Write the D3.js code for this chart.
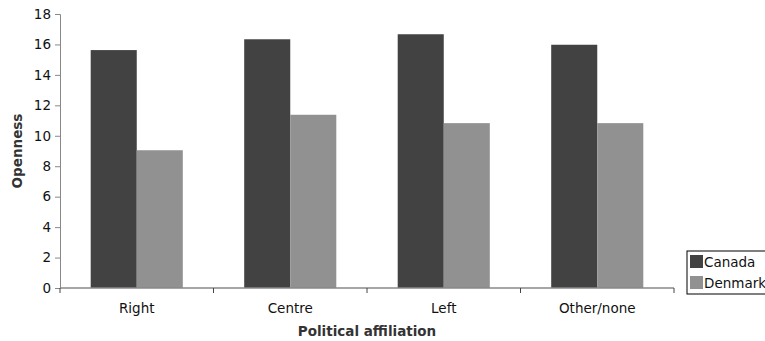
<!DOCTYPE html>
<html><head><meta charset="utf-8">
<script src="https://cdn.jsdelivr.net/npm/d3@7"></script>
<style>body{margin:0;background:#fff}svg{display:block}text{font-family:"DejaVu Sans",Verdana,sans-serif}</style>
</head><body><svg id="c" width="765" height="341"></svg>
<script>
const categories = ["Right","Centre","Left","Other/none"];
const seriesNames = ["Canada","Denmark"];
const canada = [15.63, 16.34, 16.67, 15.98];
const denmark = [9.05, 11.38, 10.83, 10.83];
const yTicks = [0,2,4,6,8,10,12,14,16,18];
const colors = ["#424242","#919191"];

const svg = d3.select("#c");
const m = {l:60, r:91, t:14, b:53};
const W = 765 - m.l - m.r, H = 341 - m.t - m.b;
const g = svg.append("g").attr("transform",`translate(${m.l},${m.t})`);
const x = d3.scaleBand().domain(categories).range([0,W]).paddingInner(0.4).paddingOuter(0.2);
const xs = d3.scaleBand().domain(seriesNames).range([0,x.bandwidth()]);
const y = d3.scaleLinear().domain([0,18]).range([H,0]);

const series = [canada, denmark];
seriesNames.forEach((s,si)=>{
  g.selectAll(".b"+si).data(categories).enter().append("rect")
   .attr("x",d=>x(d)+xs(s)).attr("width",xs.bandwidth())
   .attr("y",(d,i)=>y(series[si][i])).attr("height",(d,i)=>H-y(series[si][i]))
   .attr("fill",colors[si]);
});

// y axis
const ya = g.append("g").call(d3.axisLeft(y).tickValues(yTicks).tickSize(5).tickPadding(4));
ya.select(".domain").attr("stroke","#888");
ya.selectAll(".tick line").attr("stroke","#888");
ya.selectAll("text").attr("font-size",13.5).attr("fill","#111");

// x axis with boundary ticks
const xa = g.append("g").attr("transform",`translate(0,${H})`);
xa.append("line").attr("x1",0).attr("x2",W).attr("stroke","#888").attr("stroke-width",1.5);
const step = x.step();
d3.range(categories.length+1).forEach(i=>{
  xa.append("line").attr("x1",i*step).attr("x2",i*step).attr("y1",0).attr("y2",5).attr("stroke","#444");
});
xa.selectAll(".xl").data(categories).enter().append("text")
  .attr("x",d=>x(d)+x.bandwidth()/2).attr("y",25).attr("text-anchor","middle")
  .attr("font-size",13.5).attr("fill","#111").text(d=>d);

// axis titles
svg.append("text").attr("x",m.l+W/2).attr("y",336).attr("text-anchor","middle")
  .attr("font-size",13.5).attr("font-weight","bold").attr("fill","#333").text("Political affiliation");
svg.append("text").attr("transform",`translate(22,${m.t+H/2}) rotate(-90)`).attr("text-anchor","middle")
  .attr("font-size",13.5).attr("font-weight","bold").attr("fill","#333").text("Openness");

// legend
const lg = svg.append("g").attr("transform","translate(687,251)");
lg.append("rect").attr("x",0).attr("y",0).attr("width",90).attr("height",43).attr("fill","#fff").attr("stroke","#000");
seriesNames.forEach((s,i)=>{
  lg.append("rect").attr("x",3).attr("y",4+i*21).attr("width",13).attr("height",13).attr("fill",colors[i]);
  lg.append("text").attr("x",17).attr("y",15.5+i*21).attr("font-size",13.5).attr("fill","#111").text(s);
});
</script></body></html>
